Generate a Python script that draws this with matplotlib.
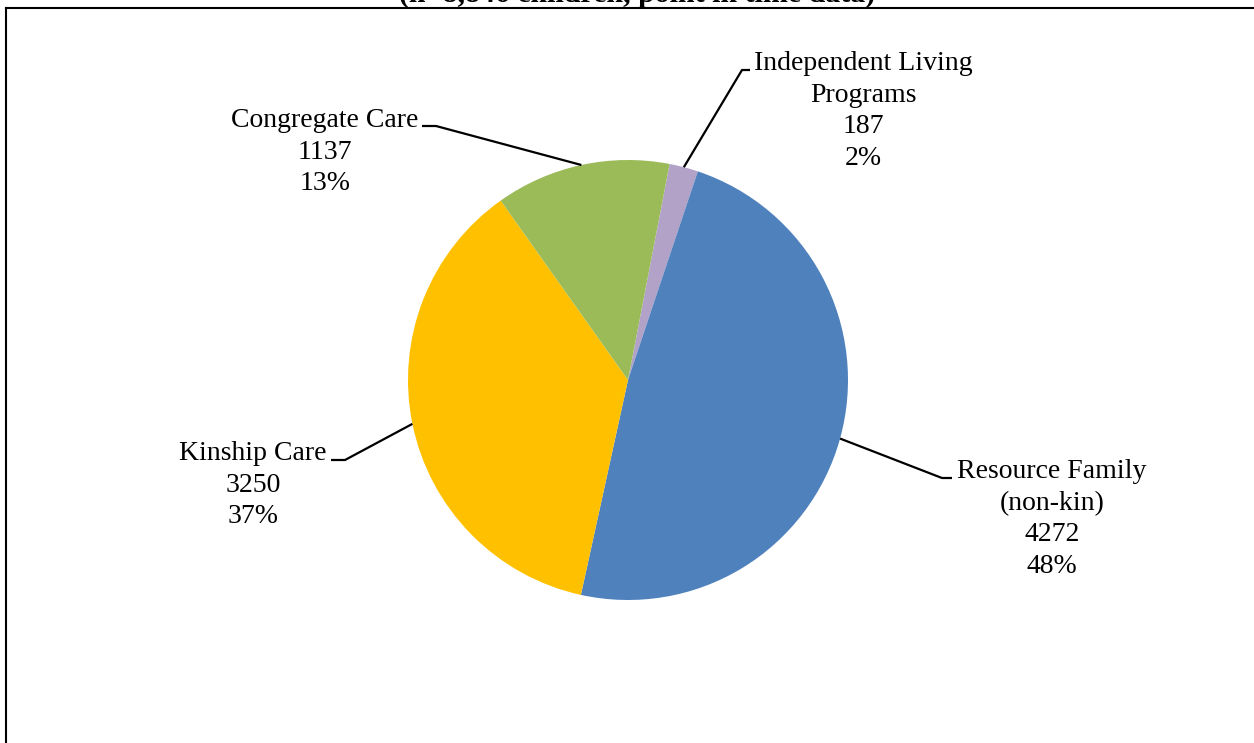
import matplotlib
matplotlib.use("Agg")
import matplotlib.pyplot as plt
import numpy as np

categories = ["Independent Living\nPrograms", "Resource Family\n(non-kin)", "Kinship Care", "Congregate Care"]
values = [187, 4272, 3250, 1137]
colors = ["#B2A2C7", "#4F81BD", "#FFC000", "#9BBB59"]
title = "(n=8,846 children, point in time data)"

W, H = 1254, 743
fig = plt.figure(figsize=(W / 100, H / 100), dpi=100)
ax = fig.add_axes([0, 0, 1, 1])

cx, cy, r = 628, H - 380, 220
start = 79.1
wedges, _ = ax.pie(values, colors=colors, startangle=start, counterclock=False,
                   center=(cx, cy), radius=r, frame=True,
                   wedgeprops=dict(linewidth=0))
ax.set_xlim(0, W)
ax.set_ylim(0, H)
ax.set_aspect("auto")
ax.axis("off")

font = dict(family="Liberation Serif", fontsize=20)
total = sum(values)
label_specs = [
    # elbow point, horizontal end, text x, text top y
    ((742, 70), (750, 70), 863, 51),
    ((942, 478), (952, 478), 1052, 459),
    ((345, 460), (331, 460), 253, 441),
    ((436, 126), (422, 126), 325, 108),
]
for w, v, cat, (elb, hend, tx, ty) in zip(wedges, values, categories, label_specs):
    mid = np.deg2rad((w.theta1 + w.theta2) / 2)
    px, py = cx + r * np.cos(mid), cy + r * np.sin(mid)
    ax.plot([px, elb[0], hend[0]], [py, H - elb[1], H - hend[1]], color="black", lw=1.6,
            solid_capstyle="butt")
    pct = round(100 * v / total)
    ax.text(tx, H - ty, f"{cat}\n{v}\n{pct}%", ha="center", va="top",
            linespacing=1.35, **font)

# border lines
ax.plot([6, W], [H - 7.5, H - 7.5], color="black", lw=1.5)
ax.plot([6, 6], [H - 7.5, 0], color="black", lw=1.5)
ax.text(637, H - 1.5, title, ha="center", va="baseline", fontweight="bold",
        family="Liberation Serif", fontsize=21.5)

fig.savefig("out.png", dpi=100)
